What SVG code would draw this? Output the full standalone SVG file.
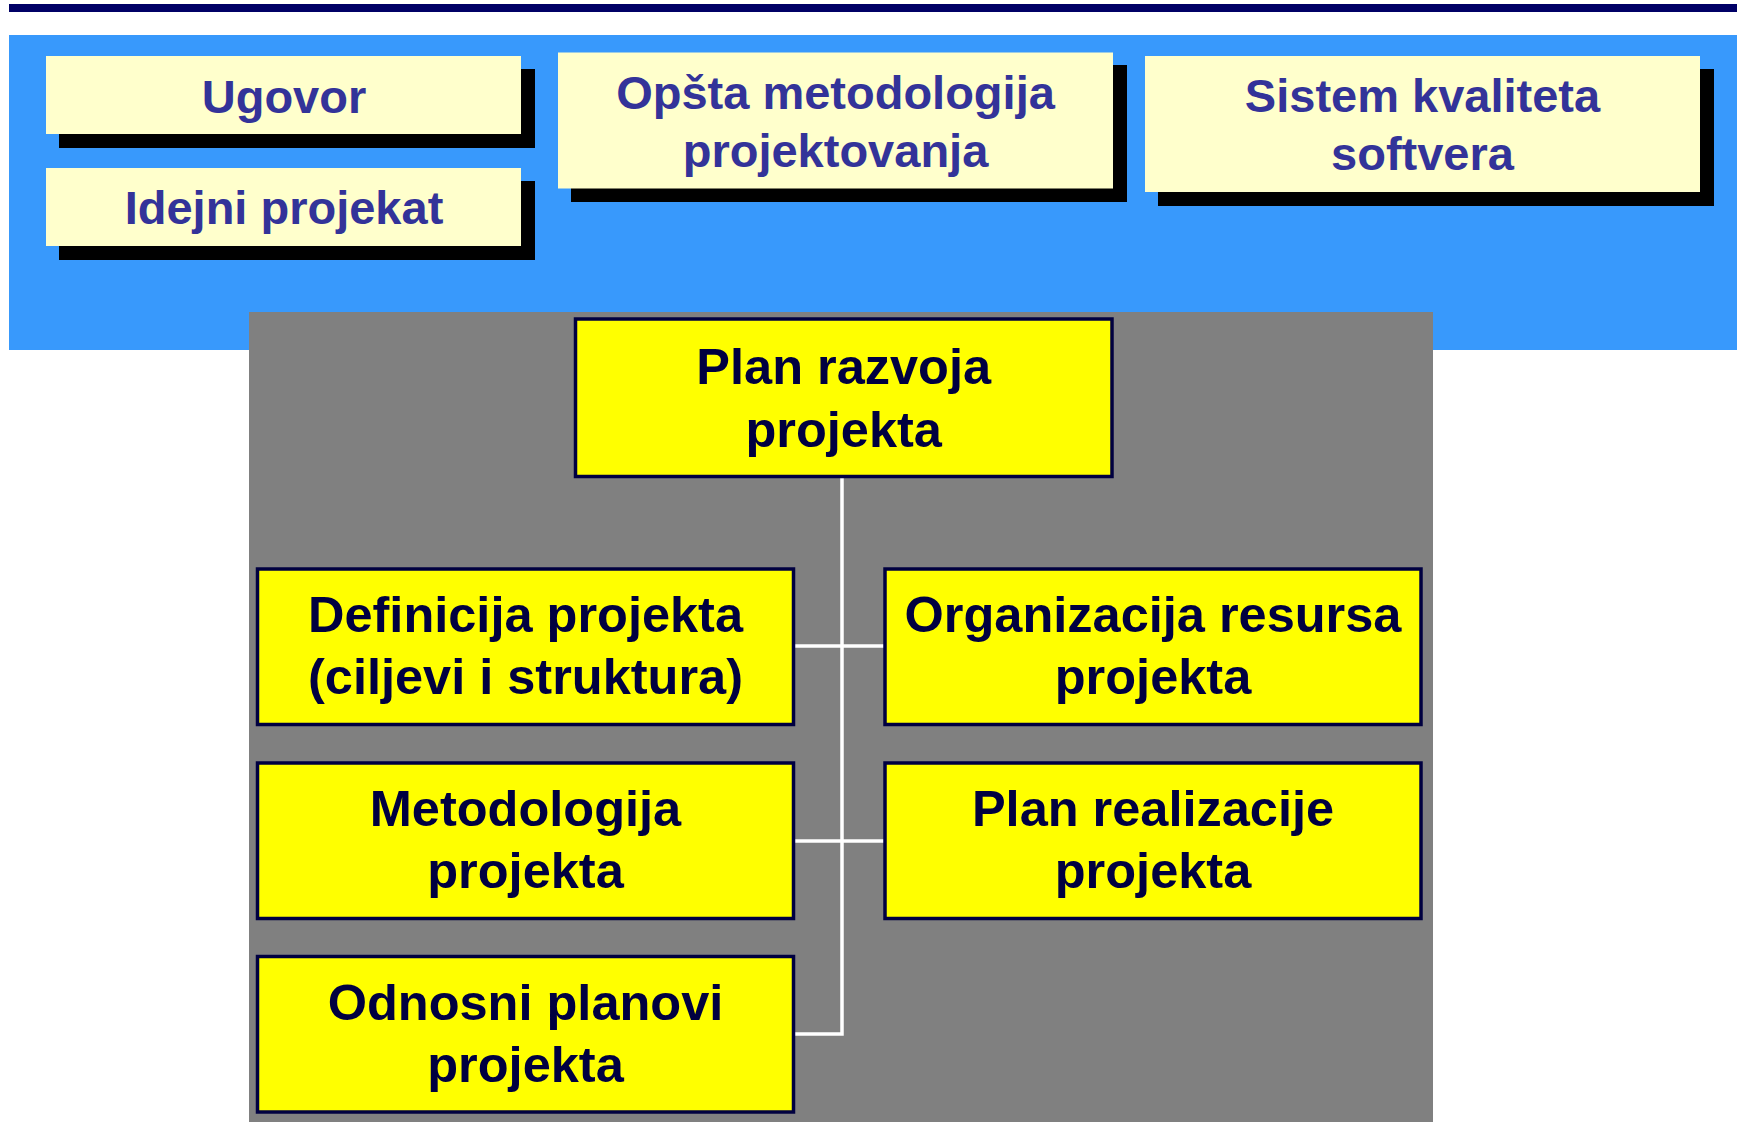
<svg xmlns="http://www.w3.org/2000/svg" width="1737" height="1122" viewBox="0 0 1737 1122">
<style>
.top-box{fill:#FFFFCC}
.shadow{fill:#000000}
.top-text{font-family:"Liberation Sans",Arial,sans-serif;font-weight:bold;font-size:47px;fill:#333399;text-anchor:middle}
.box{fill:#FFFF00;stroke:#000040;stroke-width:3.5}
.box-text{font-family:"Liberation Sans",Arial,sans-serif;font-weight:bold;font-size:50.5px;fill:#000040;text-anchor:middle}
.conn{stroke:#FFFFFF;stroke-width:3.5;fill:none}
</style>
<rect x="0" y="0" width="1737" height="1122" fill="#FFFFFF"/>
<rect x="9" y="4" width="1728" height="8" fill="#000066"/>
<rect x="9" y="35" width="1728" height="315" fill="#3899FC"/>
<rect x="249" y="312" width="1184" height="810" fill="#808080"/>

<g id="ugovor">
<rect class="shadow" x="59" y="69" width="476" height="79"/>
<rect class="top-box" x="46" y="56" width="475" height="78"/>
<text class="top-text" x="284" y="112.5">Ugovor</text>
</g>
<g id="idejni-projekat">
<rect class="shadow" x="59" y="181" width="476" height="79"/>
<rect class="top-box" x="46" y="168" width="475" height="78"/>
<text class="top-text" x="284" y="224">Idejni projekat</text>
</g>
<g id="opsta-metodologija">
<rect class="shadow" x="571" y="65" width="556" height="137"/>
<rect class="top-box" x="558" y="52.5" width="555" height="136"/>
<text class="top-text" x="835.5" y="108.5">Opšta metodologija</text>
<text class="top-text" x="835.5" y="166.5">projektovanja</text>
</g>
<g id="sistem-kvaliteta">
<rect class="shadow" x="1158" y="69" width="556" height="137"/>
<rect class="top-box" x="1145" y="56" width="555" height="136"/>
<text class="top-text" x="1422.5" y="111.5">Sistem kvaliteta</text>
<text class="top-text" x="1422.5" y="170">softvera</text>
</g>

<g id="connectors">
<polyline class="conn" points="842,478 842,1034 795,1034"/>
<line class="conn" x1="795" y1="646" x2="884" y2="646"/>
<line class="conn" x1="795" y1="841" x2="884" y2="841"/>
</g>

<g id="plan-razvoja">
<rect class="box" x="575.5" y="319" width="536.5" height="157.5"/>
<text class="box-text" x="843.7" y="383.5">Plan razvoja</text>
<text class="box-text" x="843.7" y="446.5">projekta</text>
</g>
<g id="definicija-projekta">
<rect class="box" x="257.5" y="569" width="536" height="155.5"/>
<text class="box-text" x="525.5" y="631.5">Definicija projekta</text>
<text class="box-text" x="525.5" y="694">(ciljevi i struktura)</text>
</g>
<g id="metodologija-projekta">
<rect class="box" x="257.5" y="763" width="536" height="155.5"/>
<text class="box-text" x="525.5" y="826">Metodologija</text>
<text class="box-text" x="525.5" y="887.5">projekta</text>
</g>
<g id="odnosni-planovi">
<rect class="box" x="257.5" y="956.5" width="536" height="155.5"/>
<text class="box-text" x="525.5" y="1020">Odnosni planovi</text>
<text class="box-text" x="525.5" y="1081.5">projekta</text>
</g>
<g id="organizacija-resursa">
<rect class="box" x="885" y="569" width="536" height="155.5"/>
<text class="box-text" x="1153" y="631.5">Organizacija resursa</text>
<text class="box-text" x="1153" y="693.5">projekta</text>
</g>
<g id="plan-realizacije">
<rect class="box" x="885" y="763" width="536" height="155.5"/>
<text class="box-text" x="1153" y="826">Plan realizacije</text>
<text class="box-text" x="1153" y="887.5">projekta</text>
</g>
</svg>
